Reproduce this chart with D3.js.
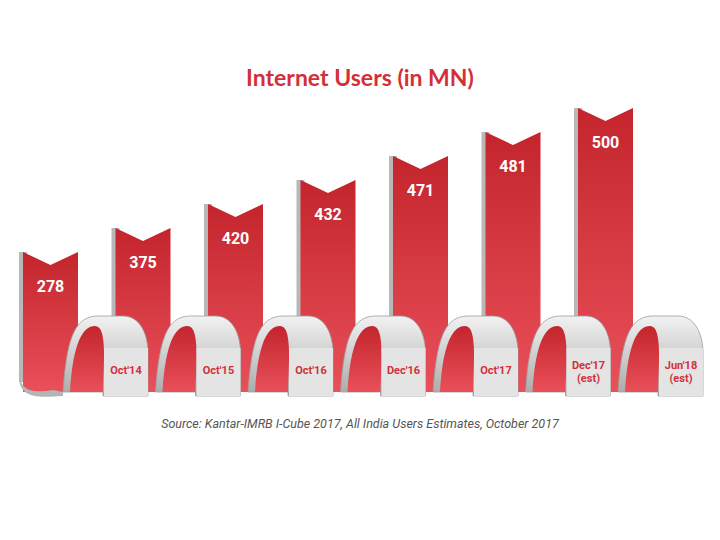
<!DOCTYPE html>
<html><head><meta charset="utf-8">
<script src="https://cdn.jsdelivr.net/npm/d3@7"></script>
<style>body{margin:0;background:#fff}</style>
</head><body>
<svg id="c" width="720" height="540"></svg>
<script>
var periods = ["Oct'14", "Oct'15", "Oct'16", "Dec'16", "Oct'17", "Dec'17", "Jun'18"];
var notes = ["", "", "", "", "", "(est)", "(est)"];
var users = [278, 375, 420, 432, 471, 481, 500];

var svg = d3.select('#c');
var defs = svg.append('defs');

var rg = defs.append('linearGradient').attr('id', 'red').attr('x1', 0).attr('y1', 0).attr('x2', 0).attr('y2', 1);
rg.append('stop').attr('offset', 0).attr('stop-color', '#c4252d');
rg.append('stop').attr('offset', 1).attr('stop-color', '#e9505a');
var gg = defs.append('linearGradient').attr('id', 'grey').attr('x1', 0).attr('y1', 0).attr('x2', 0).attr('y2', 1);
gg.append('stop').attr('offset', 0).attr('stop-color', '#f2f2f2');
gg.append('stop').attr('offset', 1).attr('stop-color', '#a9a9a9');

// step heights in the picture follow rank, not raw value
var x = d3.scaleLinear().domain([0, 6]).range([23, 578]);
var yTop = d3.scaleLinear().domain([0, 6]).range([252, 108]);
var bw = 55, base = 392;

svg.append('text').attr('x', 360).attr('y', 86).attr('text-anchor', 'middle')
  .attr('font-family', 'Lato, sans-serif').attr('font-weight', 700).attr('font-size', 23)
  .attr('fill', '#d42f38').text('Internet Users (in MN)');

// bars
var bars = svg.selectAll('g.bar').data(users).enter().append('g').attr('class', 'bar');
bars.append('path')
  .attr('fill', '#b8b8b8')
  .attr('d', function(d, i){ var l = x(i) - 4, t = yTop(i);
    return 'M' + l + ',' + t + 'L' + (l + 8) + ',' + t + 'L' + (l + 8) + ',' + (base - 10) + 'L' + l + ',' + (base - 10) + 'Z'; });
bars.append('path')
  .attr('fill', 'url(#red)')
  .attr('d', function(d, i){ var l = x(i), t = yTop(i), r = l + bw;
    return 'M' + l + ',' + t + 'L' + (l + bw / 2) + ',' + (t + 13) + 'L' + r + ',' + t +
      'L' + r + ',' + base + 'L' + l + ',' + base + 'Z'; });
bars.append('text')
  .attr('x', function(d, i){ return x(i) + bw / 2; })
  .attr('y', function(d, i){ return yTop(i) + 40; })
  .attr('text-anchor', 'middle').attr('font-family', 'Roboto, sans-serif').attr('font-weight', 700)
  .attr('font-size', 16).attr('fill', '#fff').text(function(d){ return d; });

// left curl under first bar
var l0 = x(0);
svg.append('path').attr('fill', '#b5b5b5')
  .attr('d', 'M' + (l0 - 4) + ',370 C' + (l0 - 4) + ',392 ' + (l0 + 10) + ',393 ' + (l0 + 30) + ',390 L' + (l0 + 40) + ',392 L' + (l0 + 40) + ',396 C' + (l0 + 10) + ',398 ' + (l0 - 6) + ',398 ' + (l0 - 4) + ',370Z');

// arches with date panels
var arch = svg.selectAll('g.arch').data(periods).enter().append('g').attr('class', 'arch');
arch.append('path').attr('fill', 'url(#grey)').attr('stroke', '#9c9c9c').attr('stroke-width', 0.8)
  .attr('d', function(d, i){ var a = x(i) + 40;
    return 'M' + a + ',' + base + 'C' + (a + 4) + ',332 ' + (a + 14) + ',316 ' + (a + 36) + ',316' +
      'L' + (a + 60) + ',316 C' + (a + 76) + ',316 ' + (a + 84) + ',332 ' + (a + 85) + ',350' +
      'L' + (a + 85) + ',' + (base + 4) + 'L' + (a + 40) + ',' + (base + 4) + 'L' + (a + 40) + ',' + base + 'Z'; });
arch.append('path').attr('fill', 'url(#red)')
  .attr('d', function(d, i){ var a = x(i) + 40;
    return 'M' + (a + 7) + ',' + base + 'C' + (a + 10) + ',342 ' + (a + 20) + ',326 ' + (a + 32) + ',326' +
      'C' + (a + 44) + ',326 ' + (a + 41) + ',360 ' + (a + 40) + ',' + base + 'Z'; });
arch.append('rect').attr('fill', '#e4e4e4')
  .attr('x', function(d, i){ return x(i) + 81; }).attr('y', 348).attr('width', 44).attr('height', base - 344);
arch.append('text')
  .attr('x', function(d, i){ return x(i) + 103; })
  .attr('y', function(d, i){ return notes[i] ? 369 : 374; })
  .attr('text-anchor', 'middle').attr('font-family', 'Roboto, sans-serif').attr('font-weight', 700)
  .attr('font-size', 11).attr('fill', '#d42f38').text(function(d){ return d; });
arch.append('text')
  .attr('x', function(d, i){ return x(i) + 103; }).attr('y', 382)
  .attr('text-anchor', 'middle').attr('font-family', 'Roboto, sans-serif').attr('font-weight', 700)
  .attr('font-size', 11).attr('fill', '#d42f38').text(function(d, i){ return notes[i]; });

svg.append('text').attr('x', 360).attr('y', 428).attr('text-anchor', 'middle')
  .attr('font-family', 'Roboto, sans-serif').attr('font-style', 'italic').attr('font-size', 12.5)
  .attr('fill', '#555').text('Source: Kantar-IMRB I-Cube 2017, All India Users Estimates, October 2017');
</script>
</body></html>
